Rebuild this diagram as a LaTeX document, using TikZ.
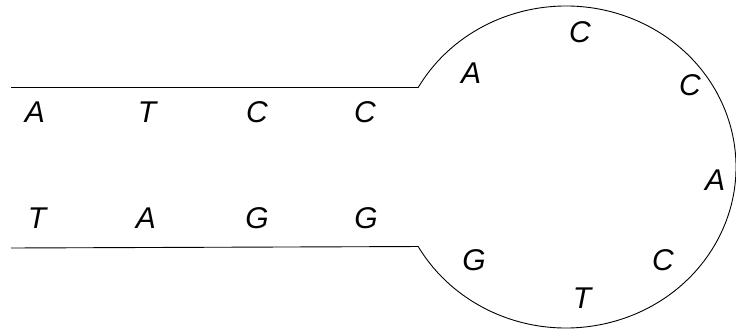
\documentclass[tikz,border=0pt]{standalone}
\usepackage{fontspec}
\setmainfont{Liberation Sans}
\usetikzlibrary{calc}
\begin{document}
\begin{tikzpicture}[x=1pt,y=-1pt,
  base/.style={font=\fontsize{30}{30}\selectfont\itshape, inner sep=0pt, anchor=center},
  strand/.style={line width=0.9pt, black}]
\useasboundingbox (0,0) rectangle (736,331);
% strand end points
\coordinate (tl) at (11,87.5);
\coordinate (bl) at (11,248);
\coordinate (c) at (566,167);
\coordinate (tj) at ($(c)+(-150.4:170 and 161)$);
% stem letters
\node[base] (s1) at (35,112) {A};
\node[base] (s2) at (147,112) {T};
\node[base] (s3) at (257,112) {C};
\node[base] (s4) at (365,112) {C};
\node[base] (b1) at (37,218) {T};
\node[base] (b2) at (146,218) {A};
\node[base] (b3) at (257,218) {G};
\node[base] (b4) at (366,218) {G};
% loop letters
\node[base] (l1) at (471,73) {A};
\node[base] (l2) at (580,32) {C};
\node[base] (l3) at (690,85) {C};
\node[base] (l4) at (715,180) {A};
\node[base] (l5) at (663,260) {C};
\node[base] (l6) at (582,298) {T};
\node[base] (l7) at (474,260) {G};
% strands and loop
\draw[strand] (tl) -- (tj) arc[start angle=-150.4, end angle=150.4, x radius=170, y radius=161] -- (bl);
\end{tikzpicture}
\end{document}
